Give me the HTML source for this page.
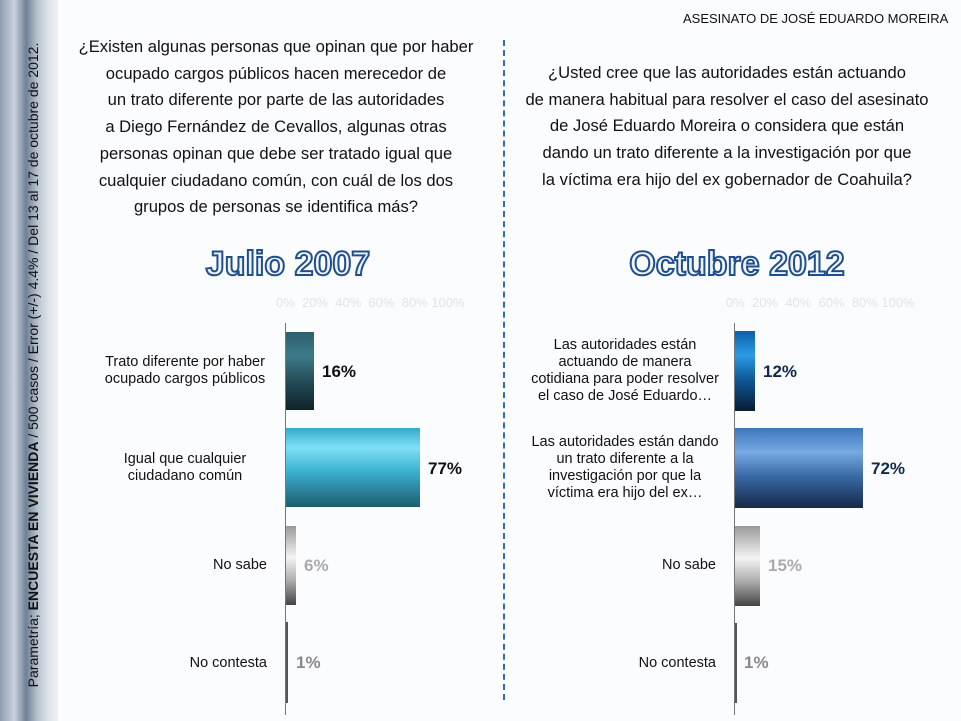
<!DOCTYPE html>
<html><head><meta charset="utf-8"><style>
body{margin:0;width:961px;height:721px;overflow:hidden;background:#fbfcfe;font-family:"Liberation Sans",sans-serif;position:relative}
.a{position:absolute}
.strip{left:0;top:0;width:58px;height:721px;background:linear-gradient(90deg,#8d9db0 0%,#c9d2dc 25%,#6f8196 45%,#b8c4cf 65%,#dfe5ea 85%,#eef2f5 100%)}
.vt{left:33px;top:365px;transform:translate(-50%,-50%) rotate(-90deg);white-space:nowrap;font-size:14px;color:#111}
.q{font-size:16.6px;line-height:26.7px;text-align:center;color:#111;white-space:nowrap}
.t{font-size:34px;font-weight:bold;color:#eef4fb;-webkit-text-stroke:2px #1f4e8c;text-align:center;white-space:nowrap;letter-spacing:0px}
.ax{font-size:13px;color:#e0e4ea;white-space:nowrap}
.lab{font-size:14.5px;line-height:17px;text-align:center;color:#111;white-space:nowrap}
.lbl{font-size:14.5px;text-align:right;color:#111;white-space:nowrap}
.v{font-size:17px;font-weight:bold;white-space:nowrap}
.axis{width:1px;background:#777}
</style></head><body>
<div class="a strip"></div>
<div class="a vt">Parametría; <b>ENCUESTA EN VIVIENDA</b> / 500 casos / Error (+/-) 4.4% / Del 13 al 17 de octubre de 2012.</div>
<div class="a" style="left:683px;top:11px;font-size:13px;color:#111">ASESINATO DE JOSÉ EDUARDO MOREIRA</div>
<div class="a" style="left:503px;top:40px;height:660px;border-left:2px dashed #2f6db3"></div>

<div class="a q" style="left:76px;width:400px;top:34px">¿Existen algunas personas que opinan que por haber<br>ocupado cargos públicos hacen merecedor de<br>un trato diferente por parte de las autoridades<br>a Diego Fernández de Cevallos, algunas otras<br>personas opinan que debe ser tratado igual que<br>cualquier ciudadano común, con cuál de los dos<br>grupos de personas se identifica más?</div>
<div class="a q" style="left:517px;width:420px;top:60px">¿Usted cree que las autoridades están actuando<br>de manera habitual para resolver el caso del asesinato<br>de José Eduardo Moreira o considera que están<br>dando un trato diferente a la investigación por que<br>la víctima era hijo del ex gobernador de Coahuila?</div>

<div class="a t" style="left:138px;width:300px;top:245px">Julio 2007</div>
<div class="a t" style="left:587px;width:300px;top:245px">Octubre 2012</div>
<div class="a ax" style="left:276px;top:295px">0%&nbsp;&nbsp;20%&nbsp;&nbsp;40%&nbsp;&nbsp;60%&nbsp;&nbsp;80%&nbsp;100%</div>
<div class="a ax" style="left:726px;top:295px">0%&nbsp;&nbsp;20%&nbsp;&nbsp;40%&nbsp;&nbsp;60%&nbsp;&nbsp;80%&nbsp;100%</div>

<!-- left chart -->
<div class="a axis" style="left:285px;top:323px;height:392px"></div>
<div class="a" style="left:286px;top:332px;width:28px;height:78px;background:linear-gradient(#2b5e6a,#3d7b88 30%,#224a55 65%,#0f2229)"></div>
<div class="a" style="left:286px;top:428px;width:134px;height:79px;background:linear-gradient(#36a9c9,#7fe0f8 25%,#3bb0cf 55%,#1d5d6e)"></div>
<div class="a" style="left:286px;top:526px;width:10px;height:79px;background:linear-gradient(#999,#f4f4f4 40%,#aaa 70%,#444)"></div>
<div class="a" style="left:286px;top:622px;width:2px;height:81px;background:#555"></div>
<div class="a lab" style="left:95px;width:180px;top:354px">Trato diferente por haber<br>ocupado cargos públicos</div>
<div class="a lab" style="left:95px;width:180px;top:451px">Igual que cualquier<br>ciudadano común</div>
<div class="a lbl" style="left:95px;width:172px;top:557px">No sabe</div>
<div class="a lbl" style="left:95px;width:172px;top:655px">No contesta</div>
<div class="a v" style="left:322px;top:362px;color:#111">16%</div>
<div class="a v" style="left:428px;top:459px;color:#111">77%</div>
<div class="a v" style="left:304px;top:556px;color:#aaa">6%</div>
<div class="a v" style="left:296px;top:653px;color:#888">1%</div>

<!-- right chart -->
<div class="a axis" style="left:734px;top:323px;height:392px"></div>
<div class="a" style="left:735px;top:331px;width:20px;height:80px;background:linear-gradient(#0d5ea8,#2a9de6 30%,#0f5a99 60%,#061c33)"></div>
<div class="a" style="left:735px;top:428px;width:128px;height:80px;background:linear-gradient(#3f76bd,#76aae3 30%,#3a6aa6 60%,#16294a)"></div>
<div class="a" style="left:735px;top:526px;width:25px;height:80px;background:linear-gradient(#999,#f4f4f4 40%,#aaa 70%,#444)"></div>
<div class="a" style="left:735px;top:623px;width:2px;height:80px;background:#555"></div>
<div class="a lab" style="left:530px;width:190px;top:337px">Las autoridades están<br>actuando de manera<br>cotidiana para poder resolver<br>el caso de José Eduardo…</div>
<div class="a lab" style="left:530px;width:190px;top:434px">Las autoridades están dando<br>un trato diferente a la<br>investigación por que la<br>víctima era hijo del ex…</div>
<div class="a lbl" style="left:530px;width:186px;top:557px">No sabe</div>
<div class="a lbl" style="left:530px;width:186px;top:655px">No contesta</div>
<div class="a v" style="left:763px;top:362px;color:#0f2a4a">12%</div>
<div class="a v" style="left:871px;top:459px;color:#0f2a4a">72%</div>
<div class="a v" style="left:768px;top:556px;color:#aaa">15%</div>
<div class="a v" style="left:744px;top:653px;color:#888">1%</div>
</body></html>
